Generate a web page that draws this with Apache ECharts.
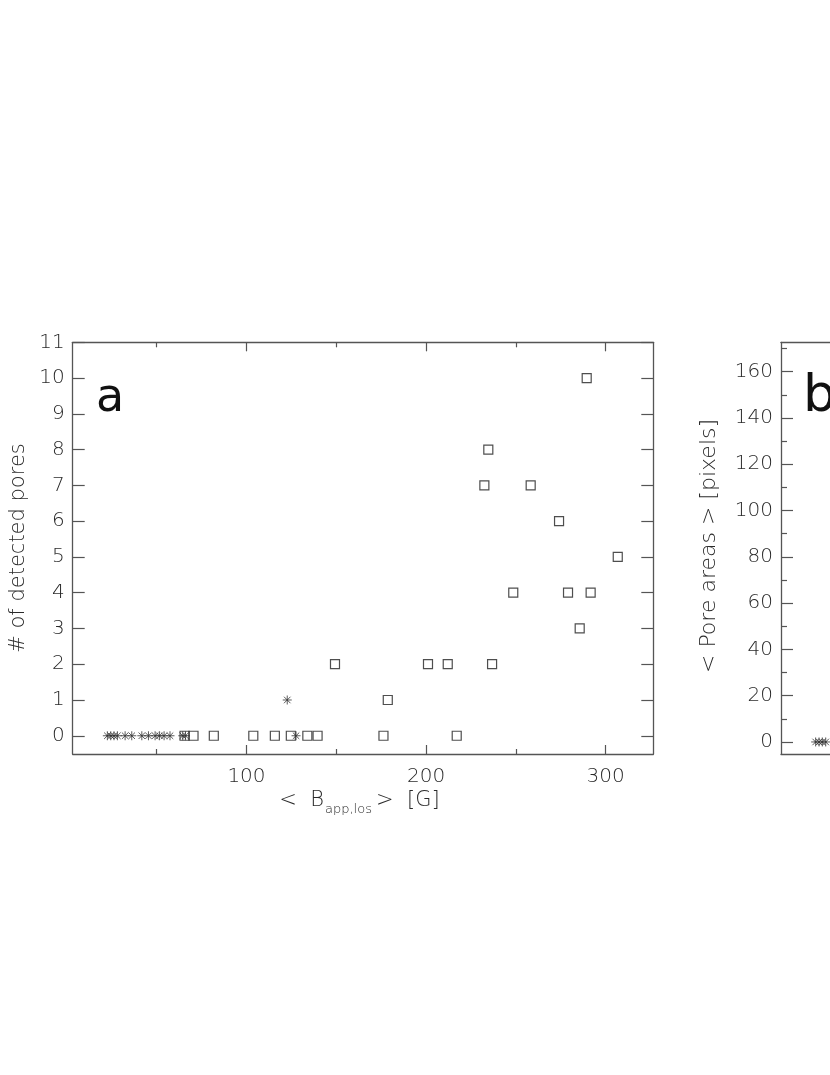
<!DOCTYPE html>
<html>
<head>
<meta charset="utf-8">
<script src="https://cdn.jsdelivr.net/npm/echarts@6/dist/echarts.min.js"></script>
<style>
html,body{margin:0;padding:0;background:#fff;overflow:hidden;width:830px;height:1075px;}
#chart{width:1400px;height:1075px;}
</style>
</head>
<body>
<div id="chart"></div>
<script>
// ---- Data ----
// Panel a: squares (B_app,los [G], # of detected pores)
const squareB = [65.5, 70.5, 81.8, 103.8, 115.8, 124.7, 133.9, 139.6, 176.3, 217.1,
                 178.7, 149.3, 201.1, 212.1, 236.8, 285.6, 248.6, 279.1, 291.7, 306.8,
                 274.1, 232.5, 258.3, 234.7, 289.5];
const squareN = [0, 0, 0, 0, 0, 0, 0, 0, 0, 0,
                 1, 2, 2, 2, 2, 3, 4, 4, 4, 5,
                 6, 7, 7, 8, 10];
// Panel a: asterisks
const starB = [22.5, 24.4, 26.2, 28.1, 32.4, 36.1, 41.7, 45.4, 49.1, 51.5, 54.1, 57.4,
               64.5, 66.0, 122.7, 127.6];
const starN = [0, 0, 0, 0, 0, 0, 0, 0, 0, 0, 0, 0,
               0, 0, 1, 0];
// Panel b: mean pore areas [pixels] (only the visible part of the panel)
const starAreaB = [22.5, 24.4, 26.2, 28.1];
const starArea  = [0, 0, 0, 0];

// Tick values
const xMajorTicks = [100, 200, 300];
const xMinorTicks = [50, 150, 250];
const yTicksA = [0, 1, 2, 3, 4, 5, 6, 7, 8, 9, 10, 11];
const yMajorTicksB = [0, 20, 40, 60, 80, 100, 120, 140, 160];
const yMinorTicksB = [10, 30, 50, 70, 90, 110, 130, 150, 170];

// Axis ranges
const xRange = [3.2, 326.6];
const yRangeA = [-0.51, 11];
const yRangeB = [-5.2, 172.7];

const FONT = "'DejaVu Sans', sans-serif";
const TXT = '#2a2a2a';
const LINE = '#555';

const asteriskPath = 'path://M0,-5L0,5M-5,0L5,0M-3.6,-3.6L3.6,3.6M-3.6,3.6L3.6,-3.6';

function xAx(grid, pos, ticks, len, showLine, labels) {
  return {
    type: 'value', gridIndex: grid, position: pos, min: xRange[0], max: xRange[1],
    axisLine: {show: showLine, onZero: false, lineStyle: {color: LINE, width: 1.3}},
    axisTick: {show: true, inside: true, length: len, customValues: ticks,
               lineStyle: {color: LINE, width: 1.2}},
    axisLabel: labels ? {show: true, customValues: ticks, margin: 13,
               fontFamily: FONT, fontSize: 20, fontWeight: 200, color: TXT} : {show: false},
    splitLine: {show: false}
  };
}
function yAx(grid, pos, range, ticks, len, showLine, labels) {
  return {
    type: 'value', gridIndex: grid, position: pos, min: range[0], max: range[1],
    axisLine: {show: showLine, onZero: false, lineStyle: {color: LINE, width: 1.3}},
    axisTick: {show: true, inside: true, length: len, customValues: ticks,
               lineStyle: {color: LINE, width: 1.2}},
    axisLabel: labels ? {show: true, customValues: ticks, margin: 8,
               fontFamily: FONT, fontSize: 20, fontWeight: 200, color: TXT} : {show: false},
    splitLine: {show: false}
  };
}

const chart = echarts.init(document.getElementById('chart'), null, {renderer: 'canvas'});

const squareStyle = {color: 'rgba(0,0,0,0)', borderColor: '#222', borderWidth: 1.2};
const starStyle = {color: 'rgba(0,0,0,0)', borderColor: '#333', borderWidth: 1};

chart.setOption({
  animation: false,
  backgroundColor: '#fff',
  grid: [
    {left: 72.7, top: 342.3, width: 580.6, height: 411.7, containLabel: false},
    {left: 781, top: 342.3, width: 580.6, height: 411.7, containLabel: false}
  ],
  xAxis: [
    xAx(0, 'bottom', xMajorTicks, 9, true, true),
    xAx(0, 'bottom', xMinorTicks, 5, false, false),
    xAx(0, 'top', xMajorTicks, 9, true, false),
    xAx(0, 'top', xMinorTicks, 5, false, false),
    xAx(1, 'bottom', xMajorTicks, 9, true, true),
    xAx(1, 'bottom', xMinorTicks, 5, false, false),
    xAx(1, 'top', xMajorTicks, 9, true, false),
    xAx(1, 'top', xMinorTicks, 5, false, false)
  ],
  yAxis: [
    yAx(0, 'left', yRangeA, yTicksA, 12, true, true),
    yAx(0, 'right', yRangeA, yTicksA, 12, true, false),
    yAx(1, 'left', yRangeB, yMajorTicksB, 12, true, true),
    yAx(1, 'left', yRangeB, yMinorTicksB, 6, false, false),
    yAx(1, 'right', yRangeB, yMajorTicksB, 12, true, false),
    yAx(1, 'right', yRangeB, yMinorTicksB, 6, false, false)
  ],
  series: [
    {type: 'scatter', xAxisIndex: 0, yAxisIndex: 0, symbol: 'rect', symbolSize: 9,
     itemStyle: squareStyle, data: squareB.map((b, i) => [b, squareN[i]])},
    {type: 'scatter', xAxisIndex: 0, yAxisIndex: 0, symbol: asteriskPath, symbolSize: 9,
     itemStyle: starStyle, data: starB.map((b, i) => [b, starN[i]])},
    {type: 'scatter', xAxisIndex: 4, yAxisIndex: 2, symbol: asteriskPath, symbolSize: 9,
     itemStyle: starStyle, data: starAreaB.map((b, i) => [b, starArea[i]])}
  ],
  graphic: [
    {type: 'text', x: 96, y: 376, style: {text: 'a', fontFamily: FONT, fontSize: 46,
      fill: '#111'}},
    {type: 'text', x: 803, y: 371, style: {text: 'b', fontFamily: FONT, fontSize: 52,
      fill: '#111'}},
    {type: 'text', x: 19, y: 548, rotation: Math.PI / 2,
      style: {text: '# of detected pores', fontFamily: FONT, fontSize: 21, fontWeight: 200,
      fill: TXT, align: 'center', verticalAlign: 'middle'}},
    {type: 'text', x: 709, y: 546, rotation: Math.PI / 2,
      style: {text: '< Pore areas > [pixels]', fontFamily: FONT, fontSize: 22, fontWeight: 200,
      fill: TXT, align: 'center', verticalAlign: 'middle'}},
    {type: 'text', x: 324, y: 790,
      style: {text: '<  B', fontFamily: FONT, fontSize: 21, fontWeight: 200,
      fill: TXT, align: 'right'}},
    {type: 'text', x: 325, y: 803,
      style: {text: 'app,los', fontFamily: FONT, fontSize: 13, fontWeight: 200,
      fill: TXT, align: 'left'}},
    {type: 'text', x: 376, y: 790,
      style: {text: '>  [G]', fontFamily: FONT, fontSize: 21, fontWeight: 200,
      fill: TXT, align: 'left'}}
  ]
});
</script>
</body>
</html>
